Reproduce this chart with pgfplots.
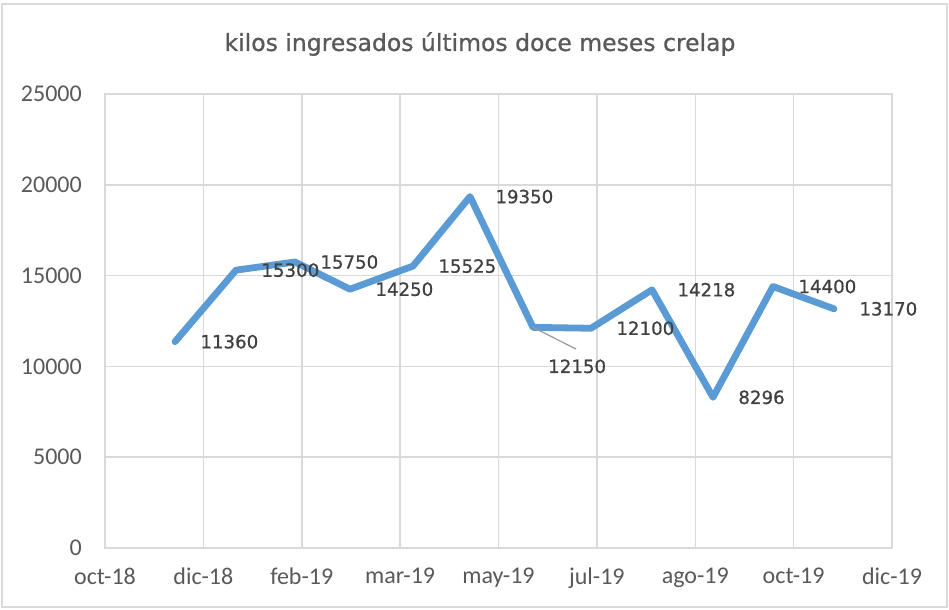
\documentclass[border=0pt]{standalone}
\usepackage{pgfplots}
\pgfplotsset{compat=1.18}
\usepackage{fontspec}
\setmainfont{Carlito}
\newfontfamily\labelfont[FakeBold=0.8]{DejaVu Sans}
\newfontfamily\titlefont[FakeBold=0.8]{DejaVu Sans}
\definecolor{linecol}{RGB}{91,155,213}
\definecolor{gridcol}{RGB}{217,217,217}
\definecolor{txtcol}{RGB}{89,89,89}
\definecolor{lblcol}{RGB}{64,64,64}
\begin{document}
\begin{tikzpicture}
\useasboundingbox (0,0) rectangle (949bp,610bp);
\draw[gridcol, line width=1.5bp] (2bp,3bp) rectangle (947bp,606bp);
\node[txtcol, font=\titlefont\fontsize{23.5bp}{27bp}\selectfont] at (480bp,566bp) {kilos ingresados últimos doce meses crelap};
\begin{axis}[
  at={(105bp,62bp)}, anchor=south west,
  scale only axis, width=787bp, height=454bp,
  xmin=105, xmax=892, ymin=0, ymax=25000,
  xtick={105,203.375,301.75,400.125,498.5,596.875,695.25,793.625,892},
  xticklabels={oct-18,dic-18,feb-19,mar-19,may-19,jul-19,ago-19,oct-19,dic-19},
  ytick={0,5000,10000,15000,20000,25000},
  scaled y ticks=false,
  /pgf/number format/assume math mode=true,
  yticklabel={\pgfmathprintnumber[fixed,precision=0,set thousands separator={}]{\tick}},
  tick style={draw=none},
  grid=major,
  grid style={gridcol, line width=1.5bp},
  axis line style={gridcol, line width=1.5bp},
  ticklabel style={txtcol, font=\fontsize{24bp}{28bp}\selectfont, inner sep=0pt},
  yticklabel style={xshift=-23bp},
  xticklabel style={yshift=-20bp},
  clip=false,
]
\addplot[linecol, line width=6.8bp, line cap=round, line join=round,
  nodes near coords, point meta=explicit symbolic,
  every node near coord/.append style={anchor=west, xshift=22bp, inner sep=0pt, text=lblcol, font=\labelfont\fontsize{18.2bp}{22bp}\selectfont}]
  table[meta=lab] {
x y lab
175 11360 11360
236 15300 15300
295 15750 15750
350 14250 14250
413 15525 15525
470 19350 19350
533 12150 {}
591 12100 12100
652 14218 14218
713 8296 8296
773 14400 14400
834 13170 13170
};
\addplot[only marks, mark=none, draw=none,
  nodes near coords, point meta=explicit symbolic,
  every node near coord/.append style={anchor=west, xshift=15bp, yshift=-39bp, inner sep=0pt, text=lblcol, font=\labelfont\fontsize{18.2bp}{22bp}\selectfont}]
  table[meta=lab] {
x y lab
533 12150 12150
};
\draw[gray!80, line width=1.2bp] (axis cs:533,12150) -- (axis cs:576,10958);
\end{axis}
\end{tikzpicture}
\end{document}
